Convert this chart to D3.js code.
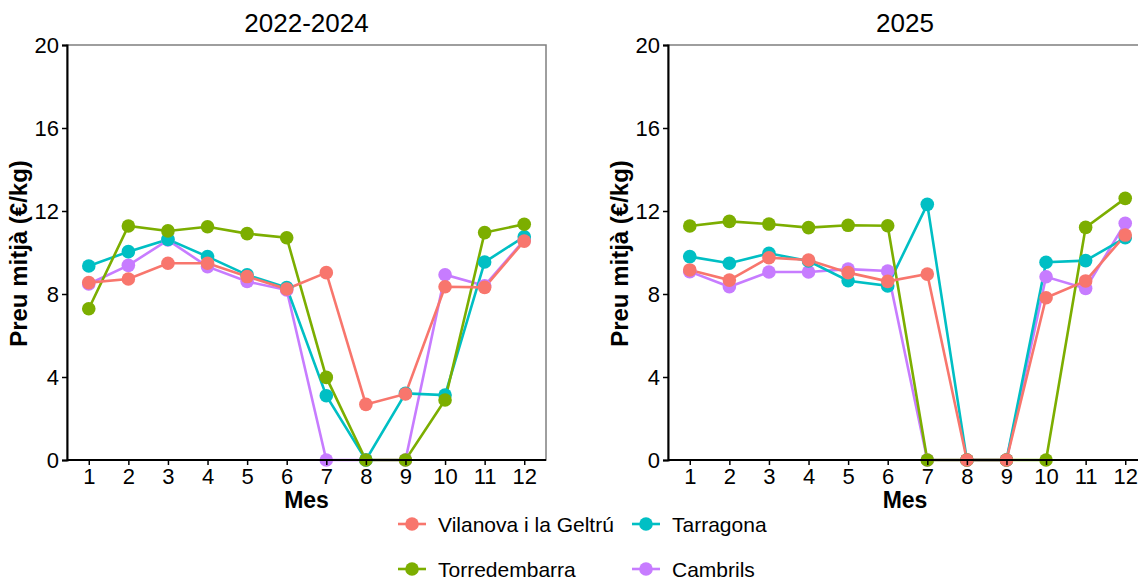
<!DOCTYPE html>
<html lang="ca">
<head>
<meta charset="UTF-8">
<title>Preu mitjà</title>
<script src="https://d3js.org/d3.v7.min.js"></script>
<style>
    body { margin: 0; padding: 0; background: #fff; font-family: 'Liberation Sans', Arial, sans-serif; }
    svg { display: block; }
    .tick text { font-family: 'Liberation Sans', Arial, sans-serif; fill: #000; }
</style>
</head>
<body>
<div id="chart"></div>
<script>
    const months = [1, 2, 3, 4, 5, 6, 7, 8, 9, 10, 11, 12];
    const yTicks = [0, 4, 8, 12, 16, 20];
    const cities = ["Vilanova i la Geltrú", "Torredembarra", "Tarragona", "Cambrils"];
    const cityColors = ["#F8766D", "#7CAE00", "#00BFC4", "#C77CFF"];
    const panelTitles = ["2022-2024", "2025"];

    // 2022-2024
    const vilanova2224 = [8.55, 8.72, 9.48, 9.48, 8.84, 8.24, 9.03, 2.68, 3.18, 8.35, 8.32, 10.55];
    const torredembarra2224 = [7.29, 11.28, 11.04, 11.24, 10.91, 10.71, 3.98, 0, 0, 2.89, 10.96, 11.36];
    const tarragona2224 = [9.35, 10.04, 10.63, 9.8, 8.92, 8.31, 3.1, 0, 3.21, 3.13, 9.54, 10.76];
    const cambrils2224 = [8.48, 9.38, 10.6, 9.32, 8.6, 8.19, 0, 0, 0, 8.93, 8.4, 10.6];

    // 2025
    const vilanova25 = [9.16, 8.67, 9.75, 9.64, 9.03, 8.61, 8.96, 0, 0, 7.82, 8.63, 10.84];
    const torredembarra25 = [11.28, 11.5, 11.37, 11.2, 11.31, 11.29, 0, 0, 0, 0, 11.21, 12.61];
    const tarragona25 = [9.8, 9.48, 9.96, 9.59, 8.64, 8.39, 12.32, 0, 0, 9.53, 9.61, 10.71];
    const cambrils25 = [9.08, 8.35, 9.06, 9.06, 9.2, 9.11, 0, 0, 0, 8.83, 8.27, 11.41];

    const panelValues = [
        [vilanova2224, torredembarra2224, tarragona2224, cambrils2224],
        [vilanova25, torredembarra25, tarragona25, cambrils25]
    ];

    const width = 1138, height = 581;
    const svg = d3.select("#chart").append("svg")
        .attr("width", width)
        .attr("height", height);

    const plotTop = 45, plotBottom = 460;
    const panels = [
        { left: 67, right: 546 },
        { left: 668, right: 1147 }
    ];

    // points drawn in this order (Vilanova on top)
    const drawOrder = [3, 2, 1, 0];

    panels.forEach((p, pi) => {
        const pad = (p.right - p.left) * 0.55 / 12.1;
        const x = d3.scaleLinear().domain([1, 12]).range([p.left + pad, p.right - pad]);
        const y = d3.scaleLinear().domain([0, 20]).range([plotBottom, plotTop]);

        const g = svg.append("g");

        // panel border
        g.append("rect")
            .attr("x", p.left).attr("y", plotTop)
            .attr("width", p.right - p.left).attr("height", plotBottom - plotTop)
            .attr("fill", "none").attr("stroke", "#7f7f7f").attr("stroke-width", 1.5);

        const line = d3.line()
            .x((d, i) => x(months[i]))
            .y(d => y(d));

        drawOrder.forEach(ci => {
            g.append("path")
                .datum(panelValues[pi][ci])
                .attr("d", line)
                .attr("fill", "none")
                .attr("stroke", cityColors[ci])
                .attr("stroke-width", 2.6);
        });

        drawOrder.forEach(ci => {
            g.selectAll(null)
                .data(panelValues[pi][ci])
                .join("circle")
                .attr("cx", (d, i) => x(months[i]))
                .attr("cy", d => y(d))
                .attr("r", 6.8)
                .attr("fill", cityColors[ci]);
        });

        // axes
        const yAxis = g.append("g")
            .attr("transform", `translate(${p.left},0)`)
            .call(d3.axisLeft(y).tickValues(yTicks).tickSize(5).tickPadding(3));
        yAxis.select(".domain").attr("stroke", "#000").attr("stroke-width", 2);
        yAxis.selectAll(".tick line").attr("stroke", "#000").attr("stroke-width", 1.5);
        yAxis.selectAll(".tick text").attr("font-size", 22).attr("dy", "0.36em");

        const xAxis = g.append("g")
            .attr("transform", `translate(0,${plotBottom})`)
            .call(d3.axisBottom(x).tickValues(months).tickFormat(d3.format("d")).tickSize(5).tickPadding(3));
        xAxis.select(".domain").attr("stroke", "#000").attr("stroke-width", 2)
            .attr("d", `M${p.left},0H${p.right}`);
        xAxis.selectAll(".tick line").attr("stroke", "#000").attr("stroke-width", 1.5);
        xAxis.selectAll(".tick text").attr("font-size", 22);

        // titles
        const cx = pi === 0 ? (p.left + p.right) / 2 : 905;
        svg.append("text")
            .attr("x", cx).attr("y", 32)
            .attr("text-anchor", "middle")
            .attr("font-size", 26)
            .text(panelTitles[pi]);

        svg.append("text")
            .attr("x", cx).attr("y", 508)
            .attr("text-anchor", "middle")
            .attr("font-size", 23).attr("font-weight", "bold")
            .text("Mes");

        svg.append("text")
            .attr("transform", `translate(${p.left - 49},${(plotTop + plotBottom) / 2 + 1}) rotate(-90)`)
            .attr("text-anchor", "middle")
            .attr("dy", "0.36em")
            .attr("font-size", 24).attr("font-weight", "bold")
            .text("Preu mitjà (€/kg)");
    });

    // legend, two columns filled column-first
    const legendPos = [
        { x: 398, y: 524 }, { x: 398, y: 569 },
        { x: 632, y: 524 }, { x: 632, y: 569 }
    ];
    cities.forEach((c, i) => {
        const lp = legendPos[i];
        const lg = svg.append("g").attr("transform", `translate(${lp.x},${lp.y})`);
        lg.append("line").attr("x1", 0).attr("x2", 28).attr("y1", 0).attr("y2", 0)
            .attr("stroke", cityColors[i]).attr("stroke-width", 2.6);
        lg.append("circle").attr("cx", 14).attr("cy", 0).attr("r", 6.8).attr("fill", cityColors[i]);
        lg.append("text").attr("x", 40).attr("y", 0).attr("dy", "0.36em")
            .attr("font-size", 21).text(c);
    });
</script>
</body>
</html>
